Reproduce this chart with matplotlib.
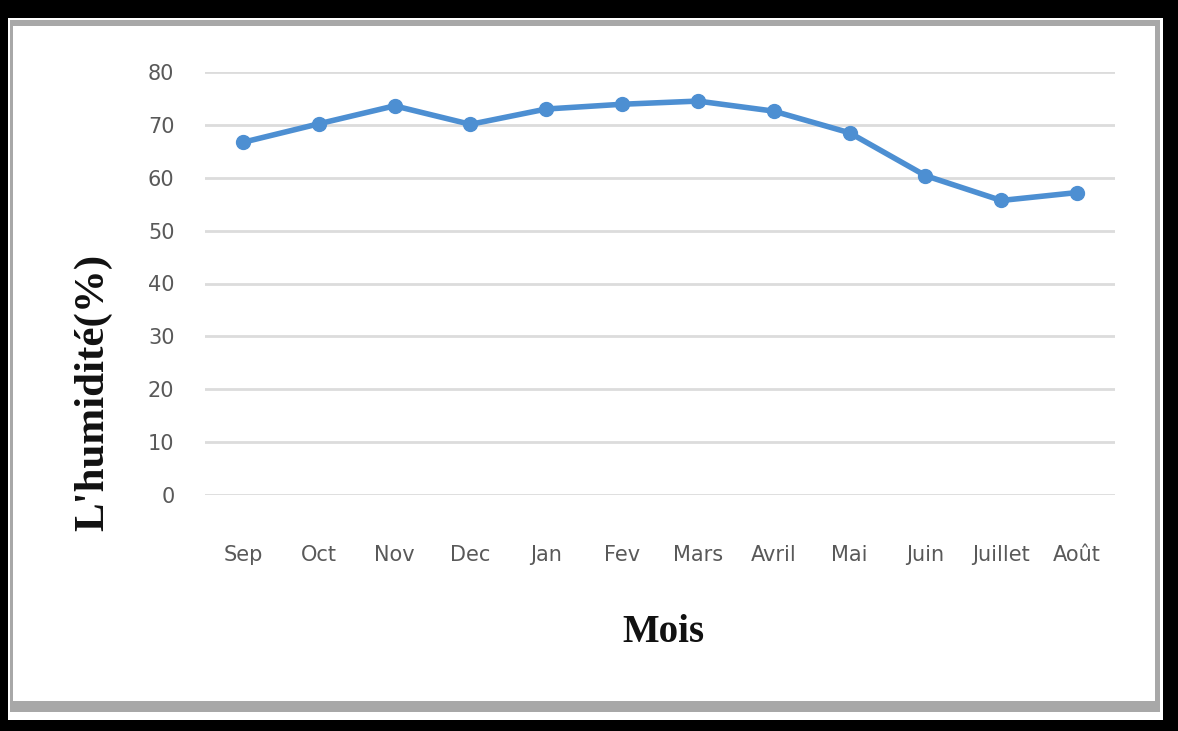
import matplotlib
matplotlib.use("Agg")
import matplotlib.pyplot as plt
from matplotlib.patches import Rectangle

months = ["Sep", "Oct", "Nov", "Dec", "Jan", "Fev", "Mars", "Avril", "Mai", "Juin", "Juillet", "Août"]
humidity = [66.7, 70.2, 73.6, 70.1, 73.0, 73.9, 74.5, 72.6, 68.5, 60.4, 55.7, 57.2]
yticks = [0, 10, 20, 30, 40, 50, 60, 70, 80]

W, H = 1178, 731
fig = plt.figure(figsize=(W / 100, H / 100), dpi=100)
fig.patch.set_facecolor("black")

# white panel with gray shading (frame)
fig.patches.append(Rectangle((8 / W, 1 - 720 / H), (1163 - 8) / W, (720 - 18) / H,
                             transform=fig.transFigure, facecolor="white", edgecolor="none", zorder=-3))
fig.patches.append(Rectangle((10 / W, 1 - 712 / H), (1160 - 10) / W, (712 - 20) / H,
                             transform=fig.transFigure, facecolor="#a8a8a8", edgecolor="none", zorder=-2))
fig.patches.append(Rectangle((13 / W, 1 - 701 / H), (1155 - 13) / W, (701 - 26) / H,
                             transform=fig.transFigure, facecolor="white", edgecolor="none", zorder=-1))

ax = fig.add_axes([205 / W, 1 - 495 / H, (1115 - 205) / W, (495 - 72) / H])
ax.set_zorder(2)
ax.set_facecolor("none")
x = list(range(len(months)))
ax.plot(x, humidity, color="#4d8fd2", linewidth=4, marker="o", markersize=10,
        clip_on=False, zorder=3)
ax.set_xlim(-0.5, len(months) - 0.5)
ax.set_ylim(0, 80)
ax.set_yticks(yticks)
ax.set_xticks(x)
ax.set_xticklabels(months)
ax.grid(axis="y", color="#dcdcdc", linewidth=2)
ax.set_axisbelow(True)
for s in ax.spines.values():
    s.set_visible(False)
ax.tick_params(length=0, labelsize=15, labelcolor="#595959")
ax.tick_params(axis="y", pad=22)
ax.tick_params(axis="x", pad=36)
for t in ax.get_xticklabels() + ax.get_yticklabels():
    t.set_fontfamily(["Liberation Sans Narrow", "DejaVu Sans"])

fig.text(93 / W, 1 - 392 / H, "L'humidité(%)", rotation=90, ha="center", va="center",
         fontsize=31, fontweight="bold", family="Liberation Serif", color="#111111")
fig.text(663 / W, 1 - 632 / H, "Mois", ha="center", va="center",
         fontsize=28, fontweight="bold", family="Liberation Serif", color="#111111")

fig.savefig("out.png", dpi=100, facecolor=fig.get_facecolor())
